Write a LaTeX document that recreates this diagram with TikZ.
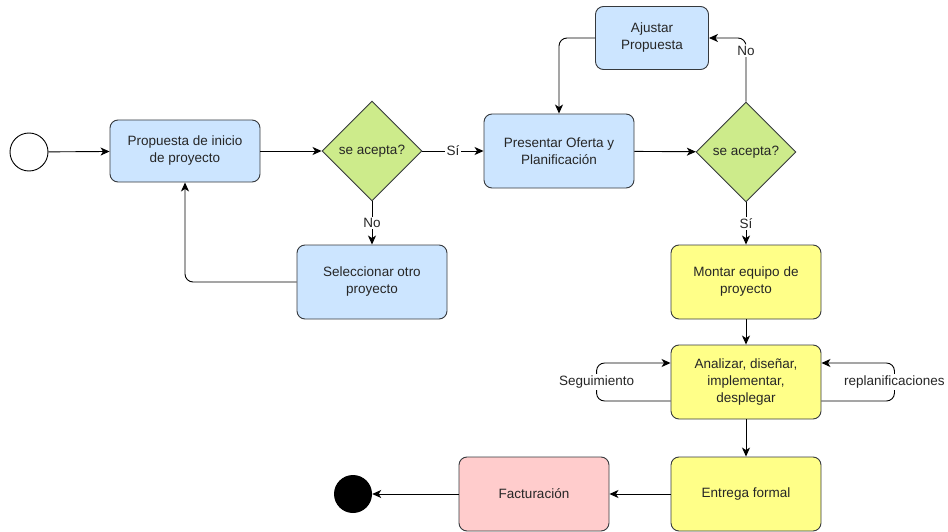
\documentclass[tikz,border=0pt]{standalone}
\usepackage{fontspec}
\setmainfont{Liberation Sans}
\usetikzlibrary{shapes.geometric, arrows.meta, positioning}
\definecolor{boxblue}{HTML}{CCE5FF}
\definecolor{boxyellow}{HTML}{FFFF88}
\definecolor{boxpink}{HTML}{FFCCCC}
\definecolor{boxgreen}{HTML}{CDEB8B}
\definecolor{edgegray}{HTML}{36393D}
\tikzset{
  procbox/.style={draw=edgegray, line width=0.9pt, rounded corners=8pt, minimum width=150pt,
    minimum height=74pt, align=center, inner sep=0pt,
    text=black!85, font=\fontsize{13.5}{17}\selectfont},
  decision/.style={diamond, draw=edgegray, line width=0.9pt, fill=boxgreen, minimum width=100pt,
    minimum height=100pt, inner sep=0pt, text=black!85, font=\fontsize{13.5}{17}\selectfont},
  startev/.style={circle, draw=black, line width=0.9pt, fill=white, minimum size=38pt, inner sep=0pt},
  endev/.style={circle, fill=black, minimum size=38pt, inner sep=0pt},
  flow/.style={draw=black, line width=0.9pt, -{Stealth[length=9pt, width=8pt, inset=2.5pt]}},
  lbl/.style={fill=white, inner sep=1.5pt, text=black!85, font=\fontsize{13.5}{16}\selectfont}
}
\begin{document}
\begin{tikzpicture}[x=1pt, y=-1pt]
  \useasboundingbox (0,0) rectangle (948,532);
  % nodes
  \node[startev] (inicio) at (29,152) {};
  \node[procbox, fill=boxblue, minimum height=62pt] (propuesta) at (185,151) {Propuesta de inicio\\de proyecto};
  \node[decision] (acepta1) at (372,151) {se acepta?};
  \node[procbox, fill=boxblue] (seleccionar) at (372,282) {Seleccionar otro\\proyecto};
  \node[procbox, fill=boxblue] (presentar) at (559,151) {Presentar Oferta y\\Planificación};
  \node[procbox, fill=boxblue, minimum width=113pt, minimum height=63pt] (ajustar) at (652,38) {Ajustar\\Propuesta};
  \node[decision] (acepta2) at (746,152) {se acepta?};
  \node[procbox, fill=boxyellow] (montar) at (746,282) {Montar equipo de\\proyecto};
  \node[procbox, fill=boxyellow] (analizar) at (746,382) {Analizar, diseñar,\\implementar,\\desplegar};
  \node[procbox, fill=boxyellow] (entrega) at (746,494) {Entrega formal};
  \node[procbox, fill=boxpink] (facturacion) at (534,494) {Facturación};
  \node[endev] (fin) at (353,494) {};
  % connectors
  \draw[flow] (inicio) -- (propuesta);
  \draw[flow] (propuesta) -- (acepta1);
  \draw[flow] (acepta1) -- node[lbl] {Sí} (presentar);
  \draw[flow] (acepta1) -- node[lbl] {No} (seleccionar);
  \draw[flow, rounded corners=8pt] (seleccionar.west) -| (propuesta.south);
  \draw[flow] (presentar) -- (acepta2);
  \draw[flow, rounded corners=8pt] (acepta2.north) |- node[lbl, pos=0.4] {No} (ajustar.east);
  \draw[flow, rounded corners=8pt] (ajustar.west) -| (presentar.north);
  \draw[flow] (acepta2) -- node[lbl] {Sí} (montar);
  \draw[flow] (montar) -- (analizar);
  \draw[flow, rounded corners=8pt] ([yshift=-19pt]analizar.west) -- ++(-74,0)
    -- node[lbl] {Seguimiento} ++(0,-38) -- ([yshift=19pt]analizar.west);
  \draw[flow, rounded corners=8pt] ([yshift=-19pt]analizar.east) -- ++(73,0)
    -- node[lbl] {replanificaciones} ++(0,-38) -- ([yshift=19pt]analizar.east);
  \draw[flow] (analizar) -- (entrega);
  \draw[flow] (entrega) -- (facturacion);
  \draw[flow] (facturacion) -- (fin);
\end{tikzpicture}
\end{document}
